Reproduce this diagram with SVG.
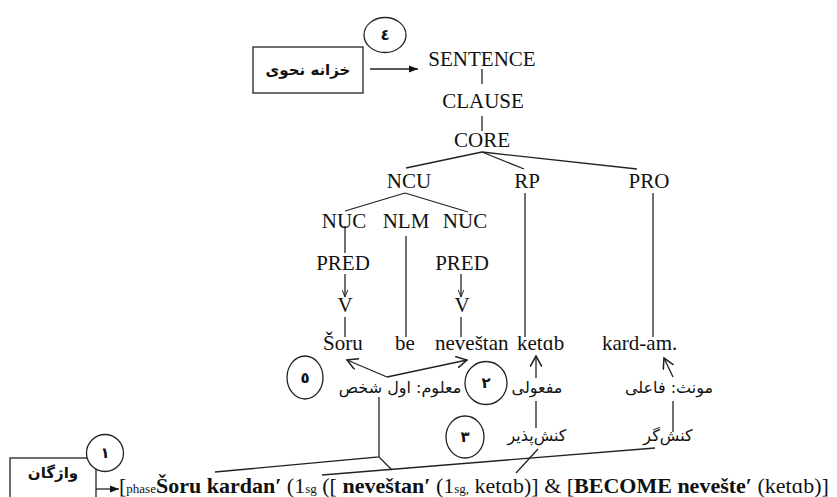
<svg xmlns="http://www.w3.org/2000/svg" width="837" height="497" viewBox="0 0 837 497">
<defs>
<style>
.t{font-size:21px;fill:#111;text-anchor:middle}
.w{font-size:21px;fill:#111}
.fa{font-family:"DejaVu Sans",sans-serif;font-size:16px;fill:#111;text-anchor:middle}
.fb{font-family:"DejaVu Sans",sans-serif;font-size:15px;font-weight:bold;fill:#111;text-anchor:middle}
.num{font-family:"DejaVu Sans",sans-serif;font-size:15px;font-weight:bold;fill:#111;text-anchor:middle}
.ln{stroke:#222;stroke-width:1.3;fill:none}
.box{stroke:#222;stroke-width:1.3;fill:#fff}
.fm{font-size:22px;fill:#111}
.b{font-weight:bold}
.s{font-size:13px}
</style>
<marker id="tri" viewBox="0 0 10 10" refX="10" refY="5" markerWidth="9" markerHeight="9" markerUnits="userSpaceOnUse" orient="auto"><path d="M0,1 L10,5 L0,9 z" fill="#111"/></marker>
<marker id="open" viewBox="0 0 10 10" refX="9" refY="5" markerWidth="12" markerHeight="12" markerUnits="userSpaceOnUse" orient="auto"><path d="M0,0 L9,5 L0,10" fill="none" stroke="#222" stroke-width="1.3"/></marker>
<marker id="small" viewBox="0 0 10 10" refX="10" refY="5" markerWidth="7" markerHeight="7" markerUnits="userSpaceOnUse" orient="auto"><path d="M0,1 L10,5 L0,9" fill="none" stroke="#222" stroke-width="1.4"/></marker>
</defs>
<rect width="837" height="497" fill="#fff"/>

<g id="connectors">
<line class="ln" x1="370" y1="69" x2="418" y2="69" marker-end="url(#tri)"/>
<line class="ln" x1="482" y1="69" x2="482" y2="84"/>
<line class="ln" x1="482" y1="116" x2="482" y2="131"/>
<line class="ln" x1="482" y1="152" x2="406" y2="168"/>
<line class="ln" x1="482" y1="152" x2="524" y2="169"/>
<line class="ln" x1="482" y1="152" x2="637" y2="169"/>
<line class="ln" x1="405" y1="193" x2="345" y2="211"/>
<line class="ln" x1="405" y1="193" x2="468" y2="212"/>
<line class="ln" x1="345" y1="226" x2="345" y2="253"/>
<line class="ln" x1="345" y1="274" x2="345" y2="297" marker-end="url(#small)"/>
<line class="ln" x1="461" y1="274" x2="461" y2="297" marker-end="url(#small)"/>
<line class="ln" x1="345" y1="317" x2="345" y2="337"/>
<line class="ln" x1="406" y1="236" x2="406" y2="337"/>
<line class="ln" x1="461" y1="317" x2="461" y2="337"/>
<line class="ln" x1="525" y1="193" x2="525" y2="337"/>
<line class="ln" x1="653" y1="193" x2="653" y2="337"/>
<line class="ln" x1="387" y1="377" x2="347" y2="360" marker-end="url(#open)"/>
<line class="ln" x1="387" y1="377" x2="467" y2="360" marker-end="url(#open)"/>
<line class="ln" x1="536" y1="378" x2="536" y2="356" marker-end="url(#open)"/>
<line class="ln" x1="673" y1="377" x2="664" y2="358" marker-end="url(#open)"/>
<line class="ln" x1="536" y1="401" x2="536" y2="428"/>
<line class="ln" x1="673" y1="401" x2="673" y2="432"/>
<polyline class="ln" points="215,472 379,457 379,397"/>
<line class="ln" x1="379" y1="457" x2="392" y2="470"/>
<line class="ln" x1="322" y1="475" x2="655" y2="448"/>
<line class="ln" x1="538" y1="449" x2="516" y2="473"/>
<line class="ln" x1="96" y1="489" x2="119" y2="489" marker-end="url(#tri)"/>
</g>

<g id="syntax-box">
<rect class="box" x="253" y="47" width="110" height="46"/>
<text class="fb" x="308" y="75">خزانه نحوی</text>
</g>
<g id="circle4"><ellipse class="box" cx="385" cy="35" rx="21" ry="17.5"/><text class="num" x="385" y="40">٤</text></g>

<g font-family="'Liberation Serif', 'DejaVu Serif', serif">
<g id="sentence"><text class="t" x="482" y="66">SENTENCE</text></g>
<g id="clause"><text class="t" x="483" y="108">CLAUSE</text></g>
<g id="core"><text class="t" x="482" y="147">CORE</text></g>
<g id="ncu"><text class="t" x="409" y="188">NCU</text></g>
<g id="rp"><text class="t" x="527" y="188">RP</text></g>
<g id="pro"><text class="t" x="649" y="188">PRO</text></g>
<g id="nuc1"><text class="t" x="344" y="228">NUC</text></g>
<g id="nlm"><text class="t" x="406" y="228">NLM</text></g>
<g id="nuc2"><text class="t" x="465" y="228">NUC</text></g>
<g id="pred1"><text class="t" x="343" y="270">PRED</text></g>
<g id="pred2"><text class="t" x="462" y="270">PRED</text></g>
<g id="v1"><text class="t" x="345" y="312">V</text></g>
<g id="v2"><text class="t" x="462" y="312">V</text></g>

<g id="words">
<text class="w" x="323" y="350">Šoru</text>
<text class="w" x="395" y="350">be</text>
<text class="w" x="435" y="350">neveštan</text>
<text class="w" x="517" y="350">ketɑb</text>
<text class="w" x="602" y="350">kard-am.</text>
</g>

<g id="formula">
<text class="fm" x="119" y="493">[<tspan class="s">phase</tspan><tspan class="b">Šoru kardan′</tspan> (1<tspan class="s">sg</tspan> ([ <tspan class="b">neveštan′</tspan> (1<tspan class="s">sg,</tspan> ketɑb)] &amp; [<tspan class="b">BECOME nevešte′</tspan> (ketɑb)]</text>
</g>
</g>

<g id="circle5"><ellipse class="box" cx="305" cy="377.5" rx="18" ry="21.5"/><text class="num" x="305" y="383">٥</text></g>
<g id="circle2"><ellipse class="box" cx="486" cy="383" rx="21" ry="21.5"/><text class="num" x="486" y="388">٢</text></g>
<g id="circle3"><ellipse class="box" cx="465" cy="437" rx="19" ry="21"/><text class="num" x="465" y="442">٣</text></g>

<g id="agent-label"><text class="fa" x="400" y="393">معلوم: اول شخص</text></g>
<g id="object-label"><text class="fa" x="537" y="393">مفعولی</text></g>
<g id="subject-label"><text class="fa" x="669" y="393">مونث: فاعلی</text></g>
<g id="patient-label"><text class="fa" x="537" y="441">کنش‌پذیر</text></g>
<g id="actor-label"><text class="fa" x="668" y="441">کنش‌گر</text></g>

<g id="lexicon-box">
<rect class="box" x="10" y="458" width="86" height="60"/>
<text class="fb" x="53" y="478">واژگان</text>
</g>
<g id="circle1"><ellipse class="box" cx="105" cy="453" rx="18.5" ry="18.5"/><text class="num" x="105" y="458">١</text></g>
</svg>
